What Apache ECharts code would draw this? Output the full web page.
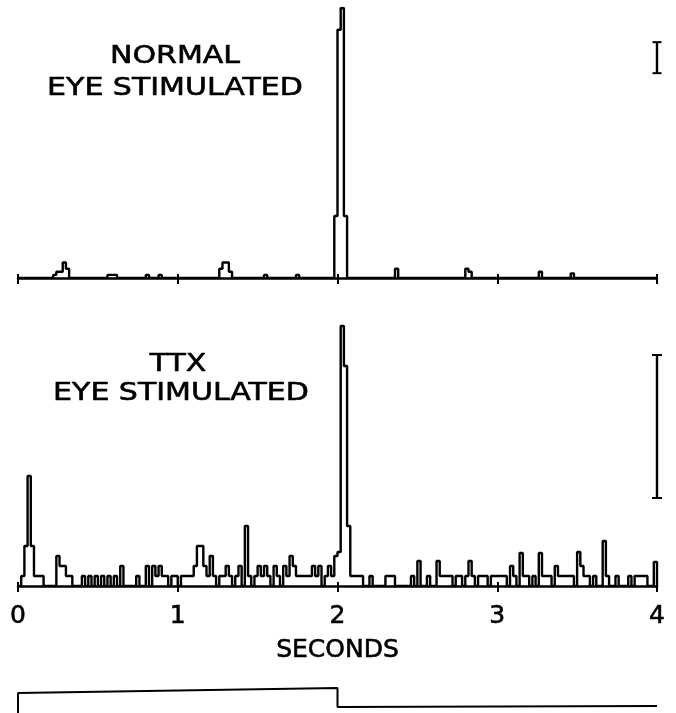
<!DOCTYPE html>
<html>
<head>
<meta charset="utf-8">
<script src="https://cdn.jsdelivr.net/npm/echarts@6/dist/echarts.min.js"></script>
<style>
  html, body { margin: 0; padding: 0; background: #fff; }
  #main { width: 676px; height: 713px; }
</style>
</head>
<body>
<div id="main"></div>
<script>
// bin width in seconds
var binWidth = 0.02;

// normal eye stimulated: [bin start (s), height]
var normalBins = [
  [0.22, 1], [0.24, 2], [0.26, 2], [0.28, 5], [0.30, 3],
  [0.56, 1], [0.58, 1], [0.60, 1], [0.80, 1], [0.88, 1],
  [1.26, 3], [1.28, 5], [1.30, 5], [1.32, 2], [1.54, 1], [1.74, 1],
  [1.98, 20], [2.00, 80], [2.02, 87], [2.04, 20],
  [2.36, 3], [2.80, 3], [2.82, 2], [3.26, 2], [3.46, 1.5]
];

// TTX eye stimulated
var ttxBins = [
  [0.02, 1], [0.04, 4], [0.06, 11], [0.08, 4], [0.10, 1], [0.12, 1], [0.14, 1],
  [0.24, 3], [0.26, 2], [0.28, 2], [0.30, 1], [0.32, 1],
  [0.40, 1], [0.44, 1], [0.48, 1], [0.52, 1], [0.56, 1], [0.60, 1], [0.64, 2],
  [0.74, 1], [0.80, 2], [0.84, 2], [0.86, 1], [0.88, 2], [0.90, 1], [0.92, 1], [0.96, 1], [0.98, 1],
  [1.02, 1], [1.04, 1], [1.06, 1], [1.08, 1], [1.10, 2], [1.12, 4], [1.14, 4], [1.16, 2], [1.18, 1],
  [1.20, 3], [1.22, 1], [1.26, 1], [1.28, 1], [1.30, 2], [1.32, 1], [1.36, 1], [1.38, 2], [1.42, 6], [1.44, 1],
  [1.48, 1], [1.50, 2], [1.52, 1], [1.54, 2], [1.56, 1], [1.60, 2], [1.62, 1], [1.66, 2], [1.68, 1],
  [1.70, 3], [1.72, 2], [1.74, 1], [1.76, 1], [1.78, 1], [1.80, 1], [1.82, 1], [1.84, 2], [1.86, 1],
  [1.88, 2], [1.92, 1], [1.94, 2], [1.96, 1], [1.98, 3], [2.00, 3.4], [2.02, 26], [2.04, 22], [2.06, 6], [2.08, 1],
  [2.10, 1], [2.12, 1], [2.14, 1], [2.20, 1], [2.30, 1], [2.32, 1], [2.34, 1], [2.46, 1], [2.50, 2.5], [2.56, 1],
  [2.62, 2.5], [2.64, 1], [2.66, 1], [2.68, 1], [2.70, 1], [2.74, 1], [2.76, 1], [2.80, 1], [2.82, 2.5], [2.84, 1],
  [2.88, 1], [2.90, 1], [2.92, 1], [2.96, 1], [2.98, 1], [3.00, 1], [3.02, 1], [3.04, 1], [3.08, 2], [3.10, 1],
  [3.14, 3.3], [3.16, 1], [3.18, 1], [3.22, 1], [3.26, 3.3], [3.28, 1], [3.30, 1], [3.32, 1], [3.36, 2], [3.38, 1],
  [3.40, 1], [3.42, 1], [3.44, 1], [3.46, 1], [3.50, 3.4], [3.52, 2], [3.54, 1], [3.56, 1], [3.60, 1],
  [3.66, 4.5], [3.68, 1], [3.74, 1], [3.82, 1], [3.86, 1], [3.88, 1], [3.90, 1], [3.92, 1], [3.98, 2.4]
];

// calibration bars (same height units as each panel)
var normalScaleBar = [66, 76];
var ttxScaleBar = [8.8, 23.1];

// stimulus trace: on 0-2 s, off 2-4 s
var stimTime = [0, 0, 2, 2, 4];
var stimLevel = [-1, 2.0, 2.5, 0.6, 0.7];

function toSteps(bins) {
  var n = Math.round(4 / binWidth);
  var vals = [];
  for (var i = 0; i < n; i++) vals.push(0);
  bins.forEach(function (b) {
    vals[Math.round(b[0] / binWidth)] = b[1];
  });
  var out = [];
  for (var j = 0; j < n; j++) out.push([j * binWidth, vals[j]]);
  out.push([4, 0]);
  return out;
}

var font = 'DejaVu Sans';

function baseAxis(grid, labels) {
  return {
    type: 'value', gridIndex: grid, min: 0, max: 4, interval: 1,
    axisLine: { show: true, lineStyle: { color: '#000', width: 2.5 } },
    axisTick: { show: true, length: 6, lineStyle: { color: '#000', width: 2 } },
    axisLabel: {
      show: labels, color: '#000', fontSize: 25, fontFamily: font, margin: 18,
      textBorderColor: '#000', textBorderWidth: 0.6
    },
    splitLine: { show: false }
  };
}
function innerTicks(grid) {
  return {
    type: 'value', gridIndex: grid, min: 0, max: 4, interval: 1, position: 'bottom',
    axisLine: { show: false },
    axisTick: { show: true, inside: true, length: 4, lineStyle: { color: '#000', width: 2 } },
    axisLabel: { show: false }, splitLine: { show: false }
  };
}
function label(text, x, y) {
  return {
    type: 'text', x: x, y: y, scaleX: 1.2,
    style: {
      text: text, fill: '#000', stroke: '#000', lineWidth: 0.6,
      font: '25px "DejaVu Sans"', align: 'center', verticalAlign: 'middle'
    }
  };
}

var chart = echarts.init(document.getElementById('main'), null, { renderer: 'canvas' });

var histStyle = { color: '#000', width: 2.4 };

var option = {
  backgroundColor: '#fff',
  animation: false,
  grid: [
    { left: 18, right: 19, top: 8, height: 270 },
    { left: 18, right: 19, top: 323, height: 263 },
    { left: 18, right: 19, top: 683, height: 30 }
  ],
  xAxis: [
    baseAxis(0, false),
    innerTicks(0),
    Object.assign(baseAxis(1, true), {
      name: 'SECONDS', nameLocation: 'middle', nameGap: 52,
      nameTextStyle: {
        color: '#000', fontSize: 25, fontFamily: font,
        textBorderColor: '#000', textBorderWidth: 0.6
      }
    }),
    innerTicks(1),
    { type: 'value', gridIndex: 2, min: 0, max: 4, show: false }
  ],
  yAxis: [
    { type: 'value', gridIndex: 0, min: 0, max: 87, show: false },
    { type: 'value', gridIndex: 1, min: 0, max: 26.3, show: false },
    { type: 'value', gridIndex: 2, min: 0, max: 3, show: false }
  ],
  graphic: [
    label('NORMAL', 175, 56),
    label('EYE STIMULATED', 175, 88),
    label('TTX', 178, 364),
    label('EYE STIMULATED', 181, 393)
  ],
  series: [
    {
      type: 'line', xAxisIndex: 0, yAxisIndex: 0, step: 'end', showSymbol: false,
      data: toSteps(normalBins), lineStyle: histStyle
    },
    {
      type: 'line', xAxisIndex: 2, yAxisIndex: 1, step: 'end', showSymbol: false,
      data: toSteps(ttxBins), lineStyle: histStyle
    },
    {
      type: 'line', xAxisIndex: 0, yAxisIndex: 0, symbol: 'rect', symbolSize: [9, 2],
      itemStyle: { color: '#000' }, lineStyle: histStyle,
      data: [[4, normalScaleBar[0]], [4, normalScaleBar[1]]]
    },
    {
      type: 'line', xAxisIndex: 2, yAxisIndex: 1, symbol: 'rect', symbolSize: [10, 2],
      itemStyle: { color: '#000' }, lineStyle: histStyle,
      data: [[4, ttxScaleBar[0]], [4, ttxScaleBar[1]]]
    },
    {
      type: 'line', xAxisIndex: 4, yAxisIndex: 2, showSymbol: false,
      lineStyle: { color: '#000', width: 2 },
      data: stimTime.map(function (t, i) { return [t, stimLevel[i]]; })
    }
  ]
};

chart.setOption(option);
</script>
</body>
</html>
